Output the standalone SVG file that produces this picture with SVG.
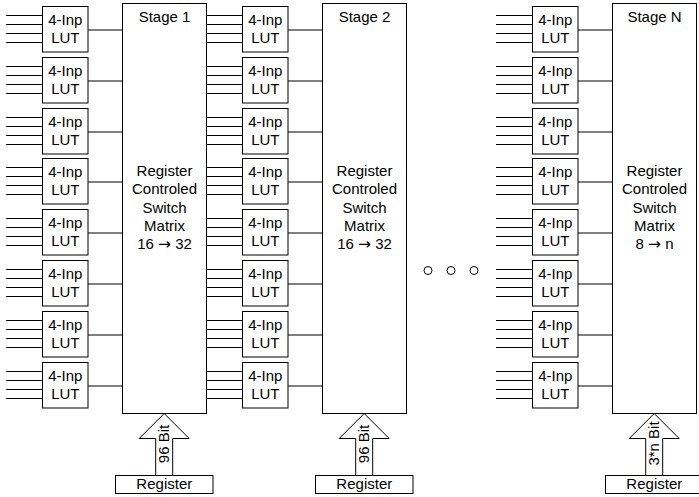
<svg xmlns="http://www.w3.org/2000/svg" xmlns:xlink="http://www.w3.org/1999/xlink" width="699" height="497" viewBox="0 0 699 497">
<style>
text{font-family:"Liberation Sans",Arial,sans-serif;font-size:15px;fill:#000;text-anchor:middle}
.a{font-family:"DejaVu Sans",sans-serif;font-size:15.500px}
.b{fill:#fff;stroke:#000;stroke-width:1}
.l{fill:none;stroke:#000;stroke-width:1}
</style>
<defs>
<g id="lutbox"><rect class="b" x="0" y="0" width="45.500" height="45.500"/><text x="22.800" y="18.500">4-Inp</text><text x="22.800" y="36.500">LUT</text></g>
<path id="wires" class="l" d="M-36.500 9H0M-36.500 18H0M-36.500 27H0M-36.500 36H0M45.500 23.500H80"/>
<g id="col"><use xlink:href="#wires" x="0" y="0"/><use xlink:href="#wires" x="0" y="51"/><use xlink:href="#wires" x="0" y="102"/><use xlink:href="#wires" x="0" y="152"/><use xlink:href="#wires" x="0" y="203"/><use xlink:href="#wires" x="0" y="254"/><use xlink:href="#wires" x="0" y="305"/><use xlink:href="#wires" x="0" y="356"/></g>
<path id="arrow" class="b" d="M0 0L25 25H8.500V62H-8.500V25H-25Z"/>
</defs>
<g id="connectors">
<use xlink:href="#col" x="42.500" y="6.500"/>
<use xlink:href="#col" x="242.500" y="6.500"/>
<use xlink:href="#col" x="532.500" y="6.500"/>
</g>
<g id="stage1"><rect class="b" x="122.500" y="3.500" width="84" height="410"/><text x="164.500" y="22">Stage 1</text><text x="164.500" y="176">Register</text><text x="164.500" y="194">Controled</text><text x="164.500" y="213">Switch</text><text x="164.500" y="231">Matrix</text><text x="164.500" y="249">16 <tspan class="a">→</tspan> 32</text></g>
<g id="stage2"><rect class="b" x="322.500" y="3.500" width="84" height="410"/><text x="364.500" y="22">Stage 2</text><text x="364.500" y="176">Register</text><text x="364.500" y="194">Controled</text><text x="364.500" y="213">Switch</text><text x="364.500" y="231">Matrix</text><text x="364.500" y="249">16 <tspan class="a">→</tspan> 32</text></g>
<g id="stageN"><rect class="b" x="612.500" y="3.500" width="84" height="410"/><text x="654.500" y="22">Stage N</text><text x="654.500" y="176">Register</text><text x="654.500" y="194">Controled</text><text x="654.500" y="213">Switch</text><text x="654.500" y="231">Matrix</text><text x="654.500" y="249">8 <tspan class="a">→</tspan> n</text></g>
<g id="luts1"><use xlink:href="#lutbox" x="42.500" y="6.500"/><use xlink:href="#lutbox" x="42.500" y="57.500"/><use xlink:href="#lutbox" x="42.500" y="108.500"/><use xlink:href="#lutbox" x="42.500" y="158.500"/><use xlink:href="#lutbox" x="42.500" y="209.500"/><use xlink:href="#lutbox" x="42.500" y="260.500"/><use xlink:href="#lutbox" x="42.500" y="311.500"/><use xlink:href="#lutbox" x="42.500" y="362.500"/></g>
<g id="luts2"><use xlink:href="#lutbox" x="242.500" y="6.500"/><use xlink:href="#lutbox" x="242.500" y="57.500"/><use xlink:href="#lutbox" x="242.500" y="108.500"/><use xlink:href="#lutbox" x="242.500" y="158.500"/><use xlink:href="#lutbox" x="242.500" y="209.500"/><use xlink:href="#lutbox" x="242.500" y="260.500"/><use xlink:href="#lutbox" x="242.500" y="311.500"/><use xlink:href="#lutbox" x="242.500" y="362.500"/></g>
<g id="lutsN"><use xlink:href="#lutbox" x="532.500" y="6.500"/><use xlink:href="#lutbox" x="532.500" y="57.500"/><use xlink:href="#lutbox" x="532.500" y="108.500"/><use xlink:href="#lutbox" x="532.500" y="158.500"/><use xlink:href="#lutbox" x="532.500" y="209.500"/><use xlink:href="#lutbox" x="532.500" y="260.500"/><use xlink:href="#lutbox" x="532.500" y="311.500"/><use xlink:href="#lutbox" x="532.500" y="362.500"/></g>
<g id="dots"><circle class="b" cx="428" cy="270.500" r="4"/><circle class="b" cx="451" cy="270.500" r="4"/><circle class="b" cx="474" cy="270.500" r="4"/></g>
<g id="bus1"><use xlink:href="#arrow" x="164.200" y="413.500"/><text transform="translate(168.700 444) rotate(-90)">96 Bit</text></g>
<g id="bus2"><use xlink:href="#arrow" x="364.200" y="413.500"/><text transform="translate(368.700 444) rotate(-90)">96 Bit</text></g>
<g id="busN"><use xlink:href="#arrow" x="654.200" y="413.500"/><text transform="translate(658.700 443.500) rotate(-90)">3*n Bit</text></g>
<g id="reg1"><rect class="b" x="115.500" y="475.500" width="97.500" height="18"/><text x="164.300" y="489">Register</text></g>
<g id="reg2"><rect class="b" x="315.500" y="475.500" width="97.500" height="18"/><text x="364.300" y="489">Register</text></g>
<g id="regN"><rect class="b" x="605.500" y="475.500" width="97.500" height="18"/><text x="654.300" y="489">Register</text></g>
</svg>
